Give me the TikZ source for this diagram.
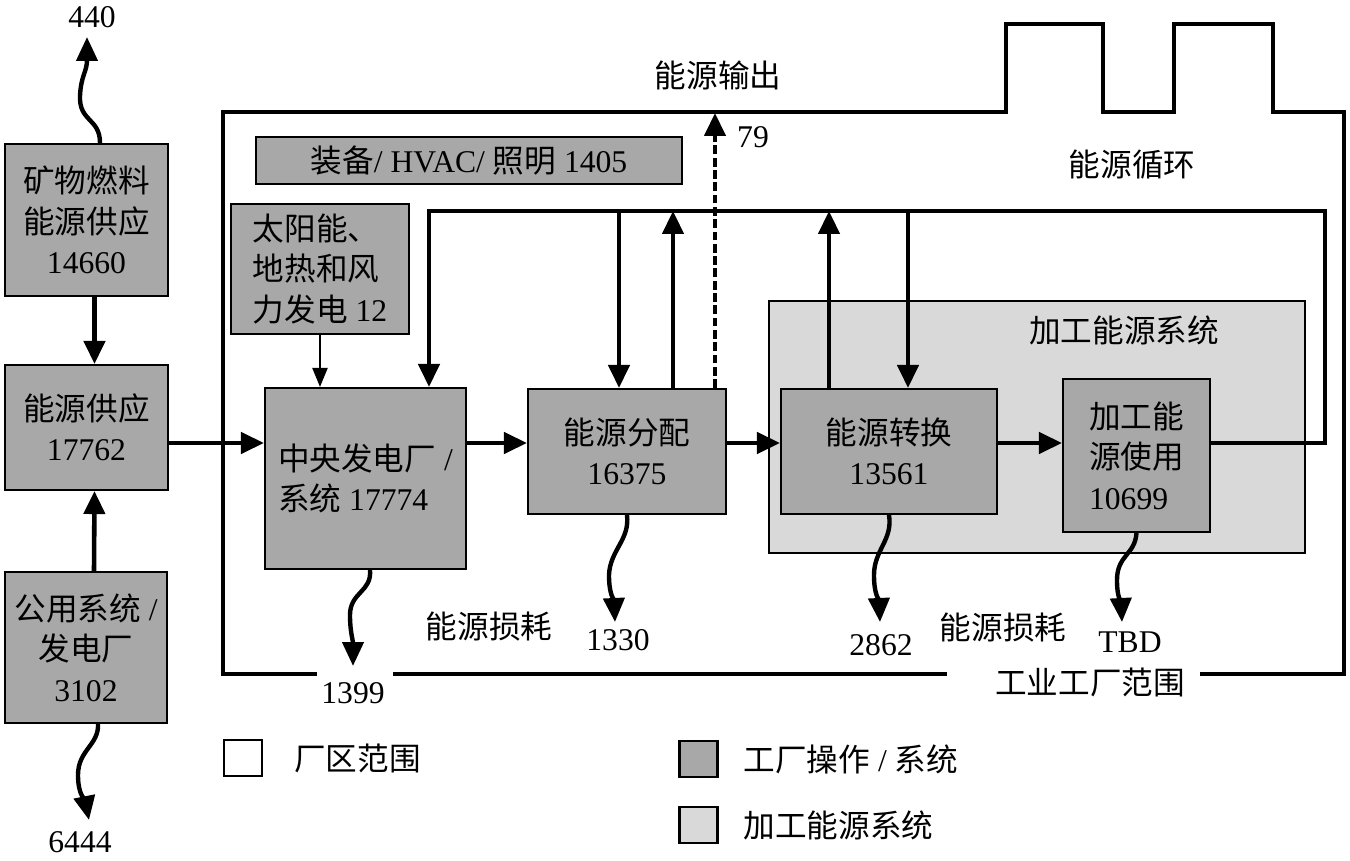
\documentclass[tikz,border=0pt]{standalone}
\usepackage{fontspec}
\setmainfont{Liberation Serif}
\newfontfamily\cjk{Noto Sans CJK SC}
\newcommand{\zh}[1]{{\cjk #1}}
\usetikzlibrary{arrows.meta}
\usetikzlibrary{positioning}
\definecolor{opgray}{RGB}{168,168,168}
\definecolor{procgray}{RGB}{217,217,217}

\begin{document}
\begin{tikzpicture}[x=0.02cm, y=-0.02cm,
    every node/.style={font=\fontsize{18}{23}\selectfont, inner sep=1pt},
    opbox/.style={draw, line width=1.2pt, fill=opgray, align=center},
    flowarrow/.style={line width=2.6pt, -{Triangle[length=0.46cm,width=0.42cm]}},
    thinarrow/.style={line width=1.3pt, -{Triangle[length=0.38cm,width=0.3cm]}},
    wave/.style={line width=2.5pt, -{Triangle[length=0.48cm,width=0.42cm]}},
    border/.style={line width=1.9pt},
    legbox/.style={draw, line width=1.3pt, minimum width=0.76cm, minimum height=0.72cm}]
      \useasboundingbox (0,0) rectangle (1350,861);

      % plant boundary
      \draw[border] (317,674) -- (223,674) -- (223,112) -- (1006,112) -- (1006,24) -- (1103,24) -- (1103,112)
        -- (1174,112) -- (1174,24) -- (1273,24) -- (1273,112) -- (1344,112) -- (1344,674) -- (1200,674);
      \draw[border] (393,674) -- (947,674);

      % process energy system
      \node[draw, line width=0.9pt, fill=procgray, minimum width=10.72cm, minimum height=5.04cm] (proc) at (1037,427) {};
      \node (procLabel) at (1124,330) {\zh{加工能源系统}};

      % boxes
      \node[opbox, minimum width=3.26cm, minimum height=3.04cm] (fossil) at (86.5,220) {\zh{矿物燃料}\\\zh{能源供应}\\14660};
      \node[opbox, minimum width=3.26cm, minimum height=2.5cm] (supply) at (86.5,427.5) {\zh{能源供应}\\17762};
      \node[opbox, minimum width=3.24cm, minimum height=3.02cm] (utility) at (86,647.5) {\zh{公用系统} /\\\zh{发电厂}\\3102};
      \node[opbox, minimum width=8.52cm, minimum height=0.94cm] (equip) at (469,160.5) {\zh{装备}/ HVAC/ \zh{照明} 1405};
      \node[opbox, align=left, minimum width=3.56cm, minimum height=2.6cm] (solar) at (320,269) {\zh{太阳能、}\\\zh{地热和风}\\\zh{力发电} 12};
      \node[opbox, align=left, minimum width=4.02cm, minimum height=3.62cm] (central) at (365.5,478.5) {\zh{中央发电厂} /\\\zh{系统} 17774};
      \node[opbox, minimum width=3.96cm, minimum height=2.5cm] (dist) at (627,451.5) {\zh{能源分配}\\16375};
      \node[opbox, minimum width=4.32cm, minimum height=2.5cm] (conv) at (889,451.5) {\zh{能源转换}\\13561};
      \node[opbox, align=left, minimum width=2.94cm, minimum height=3.06cm] (use) at (1136.5,455.5) {\zh{加工能}\\\zh{源使用}\\10699};

      % labels
      \node (l440) at (92,17) {440};
      \node (l6444) at (80,842) {6444};
      \node (l79) at (753,137) {79};
      \node (lExport) at (718,75) {\zh{能源输出}};
      \node (lLoop) at (1132,165) {\zh{能源循环}};
      \node (l1399) at (353,693) {1399};
      \node (lLossA) at (489,627) {\zh{能源损耗}};
      \node (l1330) at (618,640) {1330};
      \node (l2862) at (881,645) {2862};
      \node (lLossB) at (1003,628) {\zh{能源损耗}};
      \node (lTBD) at (1130,642) {TBD};
      \node (lPlant) at (1090,682) {\zh{工业工厂范围}};

      % coordinates
      \coordinate (flow) at (0,443);
      \coordinate (loopTR) at (1325,211);
      \coordinate (retC) at (429,211);
      \coordinate (retD) at (619,211);
      \coordinate (outD) at (673,211);
      \coordinate (outV) at (829,211);
      \coordinate (retV) at (908,211);
      \coordinate (t79) at (715,113);
      \coordinate (t440) at (87,37);
      \coordinate (t6444) at (89,820);
      \coordinate (t1399) at (353,666);
      \coordinate (t1330) at (615,622);
      \coordinate (t2862) at (880,622);
      \coordinate (tTBD) at (1122,622);

      % supply side
      \draw[flowarrow] ([xshift=0.16cm]fossil.south) -- ([xshift=0.16cm]supply.north);
      \draw[flowarrow] ([xshift=0.16cm]utility.north) -- ([xshift=0.16cm]supply.south);
      \draw[thinarrow] (solar.south) -- (solar.south |- central.north);

      % main flow
      \draw[flowarrow] (supply.east |- flow) -- (central.west |- flow);
      \draw[flowarrow] (central.east |- flow) -- (dist.west |- flow);
      \draw[flowarrow] (dist.east |- flow) -- (conv.west |- flow);
      \draw[flowarrow] (conv.east |- flow) -- (use.west |- flow);

      % recirculation
      \draw[flowarrow] (use.east |- flow) -| (loopTR) -- (retC) -- (retC |- central.north);
      \draw[flowarrow] (retD) -- (retD |- dist.north);
      \draw[flowarrow] (outD |- dist.north) -- (outD);
      \draw[flowarrow] (outV |- conv.north) -- (outV);
      \draw[flowarrow] (retV) -- (retV |- conv.north);
      \draw[line width=2.4pt, dash pattern=on 5pt off 2pt, -{Triangle[length=0.46cm,width=0.42cm]}] (t79 |- dist.north) -- (t79);

      % losses
      \draw[wave] ([xshift=0.27cm]fossil.north) .. controls (100,118) and (79,122) .. (80,96) .. controls (81,75) and (87,72) .. (t440);
      \draw[wave] ([xshift=0.24cm]utility.south) .. controls (99,745) and (78,750) .. (78,775) .. controls (78,795) and (85,800) .. (t6444);
      \draw[wave] ([xshift=0.09cm]central.south) .. controls (372,592) and (350,592) .. (350,615) .. controls (350,632) and (353,640) .. (t1399);
      \draw[wave] (dist.south) .. controls (630,540) and (610,550) .. (609,575) .. controls (609,595) and (614,600) .. (t1330);
      \draw[wave] (conv.south) .. controls (893,540) and (874,550) .. (874,575) .. controls (874,595) and (879,600) .. (t2862);
      \draw[wave] (use.south) .. controls (1135,555) and (1117,555) .. (1117,580) .. controls (1117,598) and (1121,602) .. (tTBD);

      % legend
      \node[legbox, fill=white] (legPlant) at (243,758) {};
      \node[right=0.58cm of legPlant] (legPlantText) {\zh{厂区范围}};
      \node[legbox, fill=opgray] (legOp) at (698.5,759) {};
      \node[right=0.46cm of legOp] (legOpText) {\zh{工厂操作} / \zh{系统}};
      \node[legbox, fill=procgray] (legProc) at (698.5,825) {};
      \node[right=0.46cm of legProc] (legProcText) {\zh{加工能源系统}};
    \end{tikzpicture}
\end{document}
